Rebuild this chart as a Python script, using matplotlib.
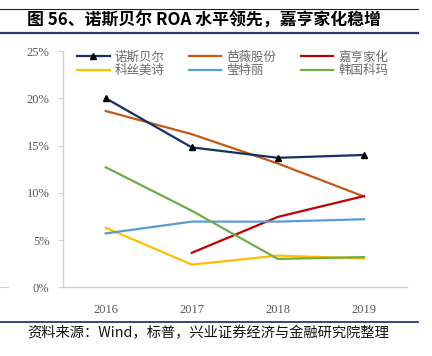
import numpy as np
import matplotlib
matplotlib.use("Agg")
import matplotlib.pyplot as plt
from matplotlib.lines import Line2D

plt.rcParams['font.family'] = ['Noto Sans CJK SC', 'DejaVu Sans']

years = ['2016', '2017', '2018', '2019']
series_names = ['诺斯贝尔', '芭薇股份', '嘉亨家化', '科丝美诗', '莹特丽', '韩国科玛']
nuosi = [20.0, 14.8, 13.7, 14.0]
bawei = [18.65, 16.2, 13.1, 9.6]
jiaheng = [np.nan, 3.65, 7.45, 9.65]
kesi = [6.3, 2.4, 3.35, 3.05]
yingteli = [5.7, 6.95, 6.95, 7.2]
hanguo = [12.7, 8.1, 3.0, 3.2]
yticks = [0, 5, 10, 15, 20, 25]
ytick_labels = ['0%', '5%', '10%', '15%', '20%', '25%']

colors = ['#142F66', '#C65911', '#C00000', '#FFC000', '#5B9BD5', '#70AD47']
data = [nuosi, bawei, jiaheng, kesi, yingteli, hanguo]

W, H = 432, 356
fig = plt.figure(figsize=(W / 100, H / 100), dpi=100)

def fx(px):
    return px / W

def fy(py):
    return 1 - py / H

ax = fig.add_axes([fx(62.7), fy(287.3), fx(407) - fx(62.7), fy(51.0) - fy(287.3)])
x = np.arange(len(years))
lines = {}
for name, vals, c in zip(series_names, data, colors):
    if name == '诺斯贝尔':
        ln, = ax.plot(x, vals, color=c, lw=1.6, marker='^', markersize=4.8,
                      markerfacecolor='black', markeredgecolor='black', zorder=3)
    else:
        ln, = ax.plot(x, vals, color=c, lw=1.6, zorder=2)
    lines[name] = ln

ax.set_xlim(-0.5, 3.5)
ax.set_ylim(0, 25)
ax.set_xticks(x)
ax.set_xticklabels(years)
ax.set_yticks(yticks)
ax.set_yticklabels(ytick_labels)
for s in ['top', 'right']:
    ax.spines[s].set_visible(False)
for s in ['left', 'bottom']:
    ax.spines[s].set_color('#D0D0D0')
    ax.spines[s].set_linewidth(1.0)
ax.tick_params(axis='x', length=0, pad=12, labelcolor='#595959')
ax.tick_params(axis='y', length=3.5, width=0.8, color='#D0D0D0', pad=6, labelcolor='#595959')
for lab in ax.get_xticklabels() + ax.get_yticklabels():
    lab.set_fontfamily(['Liberation Serif'])
    lab.set_fontsize(9)

order = ['诺斯贝尔', '科丝美诗', '芭薇股份', '莹特丽', '嘉亨家化', '韩国科玛']
leg = fig.legend([lines[n] for n in order], order, ncol=3, frameon=False,
                 loc='upper left', bbox_to_anchor=(fx(77), fy(50.5)),
                 fontsize=9, handlelength=2.6, handletextpad=0.4,
                 columnspacing=1.95, labelspacing=0.05, borderpad=0,
                 borderaxespad=0)
for t in leg.get_texts():
    t.set_color('#6A6A6A')

# Decorative header/footer lines
fig.add_artist(Line2D([fx(0), fx(418)], [fy(9), fy(9)], color='#222222', lw=0.8))
fig.add_artist(Line2D([fx(0), fx(418)], [fy(33), fy(33)], color='#2E3472', lw=1.6))
fig.add_artist(Line2D([fx(0), fx(418)], [fy(322), fy(322)], color='#2E3472', lw=1.3))
fig.add_artist(Line2D([fx(0), fx(8)], [fy(287), fy(287)], color='#D0D0D0', lw=0.8))

fig.text(fx(27), fy(21), '图 56、诺斯贝尔 ROA 水平领先，嘉亨家化稳增',
         fontsize=12.2, fontweight='bold', color='black', va='center', ha='left')
fig.text(fx(27), fy(333), '资料来源：Wind，标普，兴业证券经济与金融研究院整理',
         fontsize=10.3, color='#111111', va='center', ha='left')

fig.savefig('out.png', dpi=100)
